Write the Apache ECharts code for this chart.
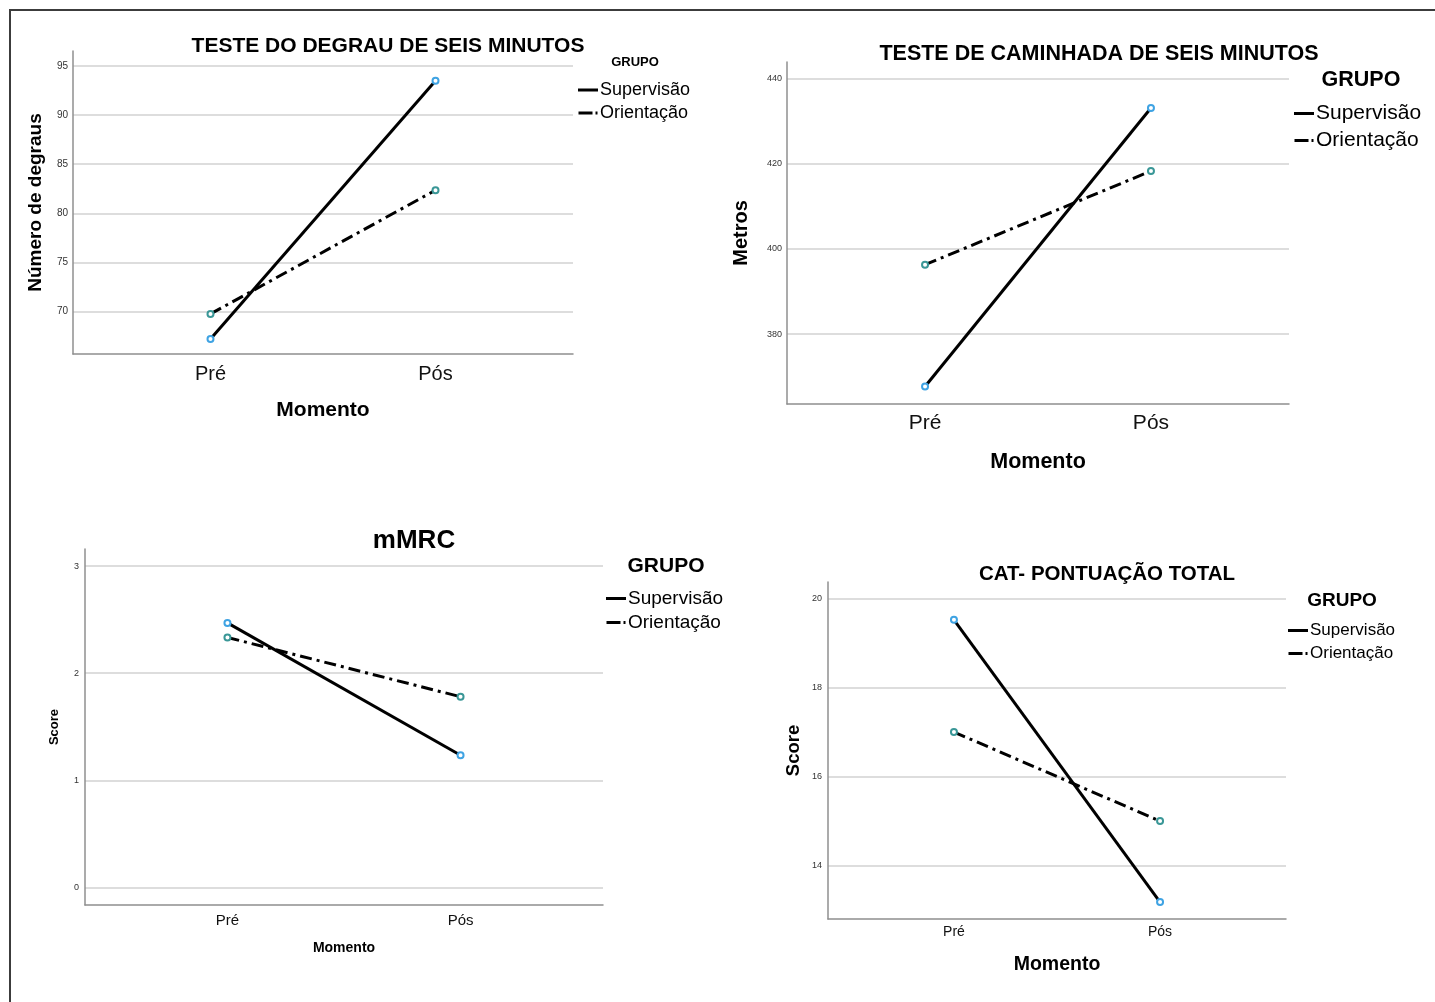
<!DOCTYPE html>
<html><head><meta charset="utf-8">
<script src="https://cdn.jsdelivr.net/npm/echarts@6/dist/echarts.min.js"></script>
<style>html,body{margin:0;padding:0;background:#fff}#c{width:1435px;height:1002px}</style>
</head><body><div id="c"></div>
<script>
// ---------- data ----------
const categories = ['Pré', 'Pós'];
const groups = ['Supervisão', 'Orientação'];
const titles = ['TESTE DO DEGRAU DE SEIS MINUTOS', 'TESTE DE CAMINHADA DE SEIS MINUTOS', 'mMRC', 'CAT- PONTUAÇÃO TOTAL'];
const yNames = ['Número de degraus', 'Metros', 'Score', 'Score'];
const xName = 'Momento';
const legendTitle = 'GRUPO';
const degrauSupervisao = [67.2, 93.5];
const degrauOrientacao = [69.75, 82.35];
const caminhadaSupervisao = [367.7, 433.1];
const caminhadaOrientacao = [396.3, 418.3];
const mmrcSupervisao = [2.47, 1.234];
const mmrcOrientacao = [2.334, 1.78];
const catSupervisao = [19.52, 13.18];
const catOrientacao = [17.0, 15.0];
const yMin = [65.67, 363.6, -0.165, 12.8];
const yMax = [96.52, 443.9, 3.16, 20.37];
const yStep = [5, 20, 1, 2];

// ---------- layout ----------
const FONT = '"Liberation Sans", Arial, sans-serif';
const panels = [
  {grid:{left:73, top:51, width:500, height:303}, sup:degrauSupervisao, ori:degrauOrientacao,
   title:{x:388, y:36, fs:21}, yName:{fs:19, gap:28}, yLab:{fs:10, m:5}, xLab:{fs:20, m:10}, xN:{fs:21, gap:46},
   grp:{x:635, y:56, fs:13}, leg:{x:578, y:81, fs:18, gap:5}},
  {grid:{left:787, top:62, width:502, height:342}, sup:caminhadaSupervisao, ori:caminhadaOrientacao,
   title:{x:1099, y:43, fs:21.5}, yName:{fs:20, gap:36}, yLab:{fs:9, m:5}, xLab:{fs:21, m:9}, xN:{fs:21.5, gap:47},
   grp:{x:1361, y:69, fs:21.5}, leg:{x:1294, y:103, fs:21, gap:6}},
  {grid:{left:85, top:549, width:518, height:356}, sup:mmrcSupervisao, ori:mmrcOrientacao,
   title:{x:414, y:528, fs:26}, yName:{fs:13, gap:24}, yLab:{fs:9, m:6}, xLab:{fs:15, m:8}, xN:{fs:14, gap:36},
   grp:{x:666, y:556, fs:21}, leg:{x:606, y:589, fs:19, gap:5}},
  {grid:{left:828, top:582, width:458, height:337}, sup:catSupervisao, ori:catOrientacao,
   title:{x:1107, y:564, fs:20.5}, yName:{fs:18.5, gap:25}, yLab:{fs:9, m:6}, xLab:{fs:14, m:6}, xN:{fs:19.5, gap:36},
   grp:{x:1342, y:591, fs:19}, leg:{x:1288, y:622, fs:17, gap:6}}
];

const toPoints = vals => categories.map((c, i) => [i, vals[i]]);

const option = {
  animation: false,
  backgroundColor: '#fff',
  textStyle: {fontFamily: FONT},
  graphic: [{type:'rect', shape:{x:10, y:10, width:1600, height:1200}, style:{fill:'none', stroke:'#3c3c3c', lineWidth:2}, silent:true, z:-1}],
  title: [], legend: [], grid: [], xAxis: [], yAxis: [], series: []
};

panels.forEach((p, k) => {
  option.title.push({text: titles[k], left: p.title.x, top: p.title.y, textAlign: 'center', padding: 0,
    textStyle: {fontFamily: FONT, fontSize: p.title.fs, fontWeight: 'bold', color: '#000'}});
  option.title.push({text: legendTitle, left: p.grp.x, top: p.grp.y, textAlign: 'center', padding: 0,
    textStyle: {fontFamily: FONT, fontSize: p.grp.fs, fontWeight: 'bold', color: '#000'}});
  option.legend.push({
    orient: 'vertical', left: p.leg.x, top: p.leg.y, padding: 0, itemGap: p.leg.gap,
    itemWidth: 20, itemHeight: 3, selectedMode: false,
    itemStyle: {color: '#000', borderWidth: 0},
    textStyle: {fontFamily: FONT, fontSize: p.leg.fs, color: '#000', padding: [0, 0, 0, -3]},
    data: [{name: groups[0], icon: 'rect'},
           {name: groups[1], icon: 'path://M0,0H14V3H0Z M17,0H19V3H17Z'}]
  });
  option.grid.push(Object.assign({containLabel: false}, p.grid));
  option.xAxis.push({
    type: 'value', gridIndex: k, min: -0.611, max: 1.611, minInterval: 1, maxInterval: 1,
    name: xName, nameLocation: 'middle', nameGap: p.xN.gap,
    nameTextStyle: {fontFamily: FONT, fontSize: p.xN.fs, fontWeight: 'bold', color: '#000'},
    axisLine: {show: true, onZero: false, lineStyle: {color: '#8f8f8f', width: 1.5}},
    axisTick: {show: false}, splitLine: {show: false},
    axisLabel: {fontFamily: FONT, fontSize: p.xLab.fs, color: '#111', margin: p.xLab.m,
      showMinLabel: false, showMaxLabel: false,
      formatter: v => (Number.isInteger(v) && categories[v] !== undefined) ? categories[v] : ''}
  });
  option.yAxis.push({
    type: 'value', gridIndex: k, min: yMin[k], max: yMax[k], minInterval: yStep[k], maxInterval: yStep[k],
    name: yNames[k], nameLocation: 'middle', nameGap: p.yName.gap,
    nameTextStyle: {fontFamily: FONT, fontSize: p.yName.fs, fontWeight: 'bold', color: '#000'},
    axisLine: {show: true, onZero: false, lineStyle: {color: '#8f8f8f', width: 1.5}},
    axisTick: {show: false},
    splitLine: {show: true, showMinLine: false, showMaxLine: false, lineStyle: {color: '#d2d2d2', width: 1.5}},
    axisLabel: {fontFamily: FONT, fontSize: p.yLab.fs, color: '#333', margin: p.yLab.m,
      showMinLabel: false, showMaxLabel: false}
  });
  option.series.push({
    type: 'line', name: groups[0], xAxisIndex: k, yAxisIndex: k, data: toPoints(p.sup),
    symbol: 'emptyCircle', symbolSize: 6, color: '#000',
    lineStyle: {color: '#000', width: 3},
    itemStyle: {color: '#3fa3e3', borderWidth: 1.4}, z: 3
  });
  option.series.push({
    type: 'line', name: groups[1], xAxisIndex: k, yAxisIndex: k, data: toPoints(p.ori),
    symbol: 'emptyCircle', symbolSize: 6, color: '#000',
    lineStyle: {color: '#000', width: 3, type: [12, 5, 3, 5]},
    itemStyle: {color: '#3a9797', borderWidth: 1.4}, z: 3
  });
});

const chart = echarts.init(document.getElementById('c'), null, {renderer: 'canvas'});
chart.setOption(option);
</script>
</body></html>
